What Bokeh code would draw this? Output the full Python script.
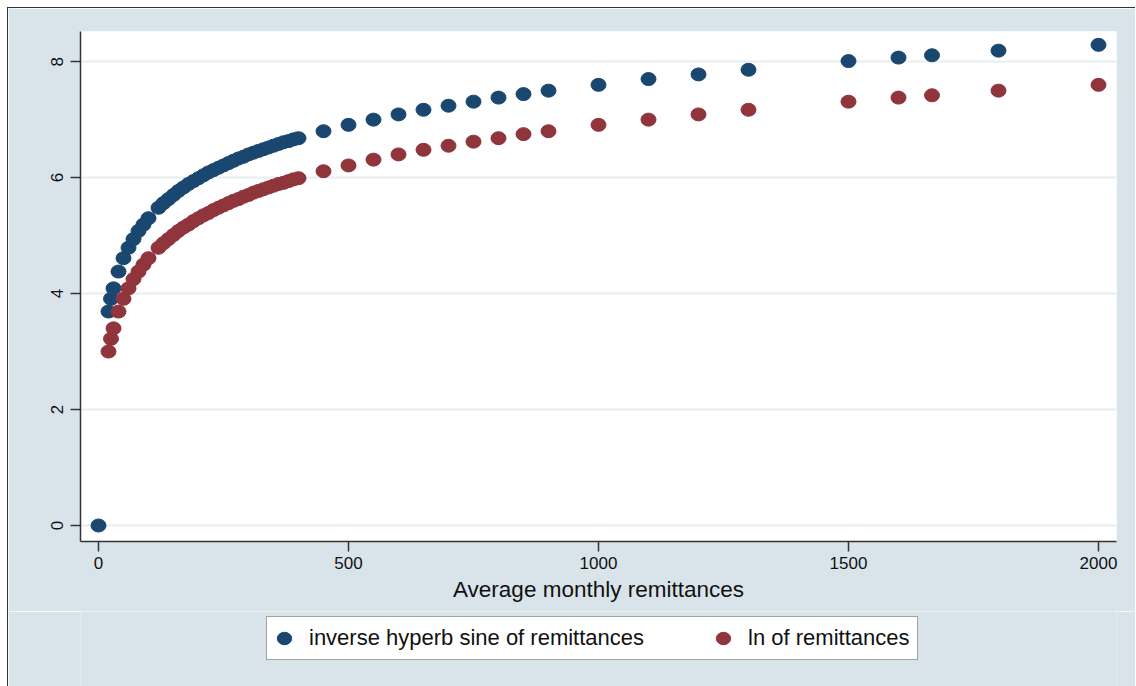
from bokeh.plotting import figure
from bokeh.layouts import column
from bokeh.models import FixedTicker, Legend, LegendItem, Range1d
from bokeh.embed import file_html
from bokeh.resources import INLINE

# ---- data ----
x_asinh = [0, 20, 25, 30, 40, 50, 60, 70, 80, 90, 100,
           120, 130, 140, 150, 160, 170, 180, 190, 200, 210, 220, 230, 240, 250,
           260, 270, 280, 290, 300, 310, 320, 330, 340, 350, 360, 370, 380, 390, 400,
           450, 500, 550, 600, 650, 700, 750, 800, 850, 900,
           1000, 1100, 1200, 1300, 1500, 1600, 1667, 1800, 2000]
y_asinh = [0.00, 3.69, 3.91, 4.09, 4.38, 4.61, 4.79, 4.94, 5.08, 5.19, 5.30,
           5.48, 5.56, 5.63, 5.70, 5.77, 5.83, 5.89, 5.94, 5.99, 6.04, 6.09, 6.13, 6.17, 6.21,
           6.25, 6.29, 6.33, 6.36, 6.40, 6.43, 6.46, 6.49, 6.52, 6.55, 6.58, 6.61, 6.63, 6.66, 6.68,
           6.80, 6.91, 7.00, 7.09, 7.17, 7.24, 7.31, 7.38, 7.44, 7.50,
           7.60, 7.70, 7.78, 7.86, 8.01, 8.07, 8.11, 8.19, 8.29]

x_ln = [20, 25, 30, 40, 50, 60, 70, 80, 90, 100,
        120, 130, 140, 150, 160, 170, 180, 190, 200, 210, 220, 230, 240, 250,
        260, 270, 280, 290, 300, 310, 320, 330, 340, 350, 360, 370, 380, 390, 400,
        450, 500, 550, 600, 650, 700, 750, 800, 850, 900,
        1000, 1100, 1200, 1300, 1500, 1600, 1667, 1800, 2000]
y_ln = [3.00, 3.22, 3.40, 3.69, 3.91, 4.09, 4.25, 4.38, 4.50, 4.61,
        4.79, 4.87, 4.94, 5.01, 5.08, 5.14, 5.19, 5.25, 5.30, 5.35, 5.39, 5.44, 5.48, 5.52,
        5.56, 5.60, 5.63, 5.67, 5.70, 5.74, 5.77, 5.80, 5.83, 5.86, 5.89, 5.91, 5.94, 5.97, 5.99,
        6.11, 6.21, 6.31, 6.40, 6.48, 6.55, 6.62, 6.68, 6.75, 6.80,
        6.91, 7.00, 7.09, 7.17, 7.31, 7.38, 7.42, 7.50, 7.60]

x_ticks = [0, 500, 1000, 1500, 2000]
y_ticks = [0, 2, 4, 6, 8]
series_labels = ["inverse hyperb sine of remittances", "ln of remittances"]
x_title = "Average monthly remittances"

BLUE = "#1a476f"
RED = "#90353b"
BG = "#d9e4ea"
FONT = "Liberation Sans"

# ---- main chart ----
p = figure(frame_width=1036, frame_height=510, output_backend="svg", toolbar_location=None,
           x_range=Range1d(-36, 2036), y_range=Range1d(-0.276, 8.52),
           min_border_left=72, min_border_right=19, min_border_top=23,
           min_border_bottom=70)
p.background_fill_color = "white"
p.border_fill_color = BG
p.outline_line_color = None

r1 = p.ellipse(x=x_asinh, y=y_asinh, width=15, height=13,
               width_units="screen", height_units="screen",
               fill_color=BLUE, line_color=BLUE)
r2 = p.ellipse(x=x_ln, y=y_ln, width=15, height=13,
               width_units="screen", height_units="screen",
               fill_color=RED, line_color=RED)

p.xaxis.ticker = FixedTicker(ticks=x_ticks)
p.yaxis.ticker = FixedTicker(ticks=y_ticks)
for ax in (p.xaxis[0], p.yaxis[0]):
    ax.axis_line_color = "#333333"
    ax.axis_line_width = 1.5
    ax.major_tick_line_color = "#333333"
    ax.major_tick_line_width = 1.5
    ax.major_tick_out = 10
    ax.major_tick_in = 0
    ax.minor_tick_line_color = None
    ax.major_label_text_font = FONT
    ax.major_label_text_font_size = "17px"
    ax.major_label_text_color = "#111111"
p.yaxis.major_label_orientation = "vertical"
p.yaxis.major_label_standoff = 7
p.xaxis.major_label_standoff = 5
p.xaxis.axis_label = x_title
p.xaxis.axis_label_text_font = FONT
p.xaxis.axis_label_text_font_style = "normal"
p.xaxis.axis_label_text_font_size = "22.5px"
p.xaxis.axis_label_text_color = "#111111"
p.xaxis.axis_label_standoff = 5

p.xgrid.visible = False
p.ygrid.grid_line_color = "#e6eef2"
p.ygrid.grid_line_width = 2

# ---- legend strip below the chart ----
TOTAL_W = 72 + 1036 + 19
lg = figure(width=TOTAL_W, height=75, output_backend="svg", toolbar_location=None,
            x_range=Range1d(0, TOTAL_W), y_range=Range1d(0, 75),
            x_axis_type=None, y_axis_type=None,
            min_border_left=0, min_border_right=0, min_border_top=0, min_border_bottom=0)
lg.background_fill_color = BG
lg.border_fill_color = BG
lg.outline_line_color = None
lg.xgrid.visible = False
lg.ygrid.visible = False
# legend key renderers (kept outside the visible range, only their key is shown)
k1 = lg.ellipse(x=[-500], y=[-500], width=15, height=13,
                width_units="screen", height_units="screen",
                fill_color=BLUE, line_color=BLUE)
k2 = lg.ellipse(x=[-500], y=[-500], width=15, height=13,
                width_units="screen", height_units="screen",
                fill_color=RED, line_color=RED)

legend = Legend(items=[LegendItem(label=series_labels[0], renderers=[k1]),
                       LegendItem(label=series_labels[1], renderers=[k2])],
                orientation="horizontal", location=(186, 26))
legend.label_text_font = FONT
legend.label_text_font_size = "22px"
legend.label_text_color = "#111111"
legend.glyph_width = 18
legend.glyph_height = 18
legend.label_standoff = 16
legend.spacing = 70
legend.padding = 8
legend.margin = 0
legend.border_line_color = "#444444"
legend.border_line_width = 1
legend.background_fill_color = "white"
legend.background_fill_alpha = 1
lg.add_layout(legend, "center")

layout = column(p, lg, spacing=0)
layout.styles = {"border-top": "1px solid #333333", "border-left": "1px solid #333333",
                 "margin-top": "7px", "margin-left": "7px"}

open("out.html", "w").write(file_html(layout, INLINE))
